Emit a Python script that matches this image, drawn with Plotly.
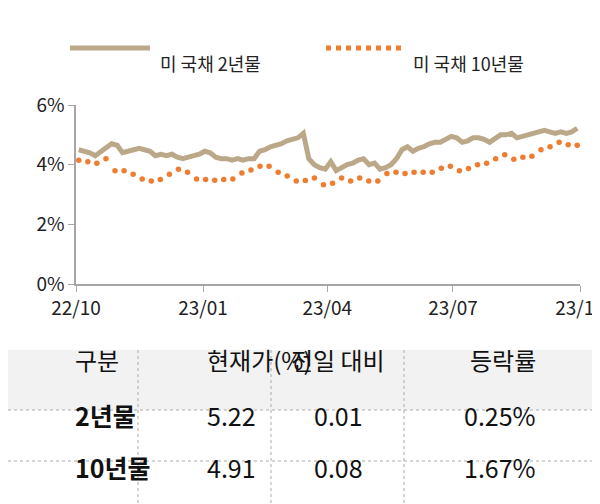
import plotly.graph_objects as go
import pandas as pd

y2 = [4.5,4.45,4.4,4.3,4.45,4.6,4.7,4.65,4.4,4.45,4.5,4.55,4.5,4.45,4.3,4.35,4.3,4.35,4.25,4.2,4.25,4.3,4.35,4.45,4.4,4.25,4.2,4.2,4.15,4.2,4.15,4.2,4.2,4.45,4.5,4.6,4.65,4.7,4.8,4.85,4.9,5.05,4.2,4.0,3.9,3.85,4.1,3.8,3.9,4.0,4.05,4.15,4.2,4.0,4.05,3.85,3.9,4.0,4.2,4.5,4.6,4.45,4.55,4.6,4.7,4.75,4.75,4.85,4.95,4.9,4.75,4.8,4.9,4.9,4.85,4.75,4.9,5.0,5.0,5.05,4.9,4.95,5.0,5.05,5.1,5.15,5.1,5.05,5.1,5.05,5.1,5.22]
y10 = [4.15,4.1,4.05,4.2,3.8,3.8,3.68,3.52,3.45,3.5,3.68,3.85,3.75,3.52,3.5,3.48,3.5,3.52,3.72,3.82,3.95,3.95,3.75,3.62,3.45,3.47,3.55,3.33,3.38,3.55,3.45,3.55,3.45,3.45,3.7,3.75,3.7,3.75,3.75,3.75,3.88,3.95,3.8,3.87,4.0,4.05,4.2,4.33,4.18,4.25,4.28,4.5,4.6,4.75,4.67,4.65]
d2 = pd.date_range("2022-10-03", "2023-09-29", periods=len(y2))
d10 = pd.date_range("2022-10-03", "2023-09-29", periods=len(y10))
tickvals = ["2022-10-01","2023-01-01","2023-04-01","2023-07-01","2023-10-01"]
ticktext = ["22/10","23/01","23/04","23/07","23/10"]
header = ["구분","현재가(%)","전일 대비","등락률"]
rows = [["2년물","5.22","0.01","0.25%"],["10년물","4.91","0.08","1.67%"]]

W, H = 600, 504
px = lambda x: x / W
py = lambda y: 1 - y / H
TAN = "#BBA888"; ORG = "#ED7D31"
F = "Noto Sans CJK KR"

fig = go.Figure()
fig.add_trace(go.Scatter(x=d2, y=y2, mode="lines", line=dict(color=TAN, width=5), showlegend=False))
fig.add_trace(go.Scatter(x=d10, y=y10, mode="markers", marker=dict(color=ORG, size=5.5), showlegend=False))

shapes = []
ann = []
shapes.append(dict(type="line", xref="paper", yref="paper", x0=px(62), x1=px(142), y0=py(40), y1=py(40), line=dict(color=TAN, width=5)))
ann.append(dict(text="미 국채 2년물", x=px(150), y=py(40), xref="paper", yref="paper", xanchor="left", showarrow=False, font=dict(size=18, color="#222")))
shapes.append(dict(type="line", xref="paper", yref="paper", x0=px(318), x1=px(395), y0=py(40), y1=py(40), line=dict(color=ORG, width=5, dash="dot")))
ann.append(dict(text="미 국채 10년물", x=px(403), y=py(40), xref="paper", yref="paper", xanchor="left", showarrow=False, font=dict(size=18, color="#222")))
shapes.append(dict(type="rect", xref="paper", yref="paper", x0=0, x1=1, y0=py(402), y1=py(342), fillcolor="#F2F2F2", line=dict(width=0), layer="below"))
for yy in [402, 453]:
    shapes.append(dict(type="line", xref="paper", yref="paper", x0=0, x1=1, y0=py(yy), y1=py(yy), line=dict(color="#AAAAAA", width=1, dash="dot")))
for xx in [130, 263, 396]:
    shapes.append(dict(type="line", xref="paper", yref="paper", x0=px(xx), x1=px(xx), y0=py(342), y1=0, line=dict(color="#AAAAAA", width=1, dash="dot")))
cx = [65, 197, 330, 530]
for i, h in enumerate(header):
    ann.append(dict(text=h, x=px(cx[i]), y=py(371), xref="paper", yref="paper", showarrow=False, font=dict(size=24, color="#111")))
for r, yy in zip(rows, [427, 479]):
    for i, v in enumerate(r):
        t = f"<b>{v}</b>" if i == 0 else v
        ann.append(dict(text=t, x=px(cx[i]), y=py(yy), xref="paper", yref="paper", showarrow=False, font=dict(size=25, color="#111")))

fig.update_layout(
    width=W, height=H, margin=dict(l=0, r=0, t=0, b=0, autoexpand=False),
    paper_bgcolor="white", plot_bgcolor="white", font=dict(family=F, color="#222"),
    shapes=shapes, annotations=ann,
    xaxis=dict(domain=[px(68), px(572)], range=["2022-10-01","2023-10-01"], tickvals=tickvals, ticktext=ticktext, automargin=False,
               showgrid=False, showline=True, linecolor="#A6A6A6", linewidth=1.5, ticks="outside", tickcolor="#A6A6A6", ticklen=6,
               tickfont=dict(size=19, color="#222")),
    yaxis=dict(domain=[py(276), py(97)], range=[0, 6], tickvals=[0,2,4,6], ticktext=["0%","2%","4%","6%"], automargin=False,
               showgrid=False, showline=True, linecolor="#A6A6A6", linewidth=1.5, ticks="outside", tickcolor="#A6A6A6", ticklen=6,
               tickfont=dict(size=19, color="#222"), zeroline=False),
)
fig.write_html("out.html")
